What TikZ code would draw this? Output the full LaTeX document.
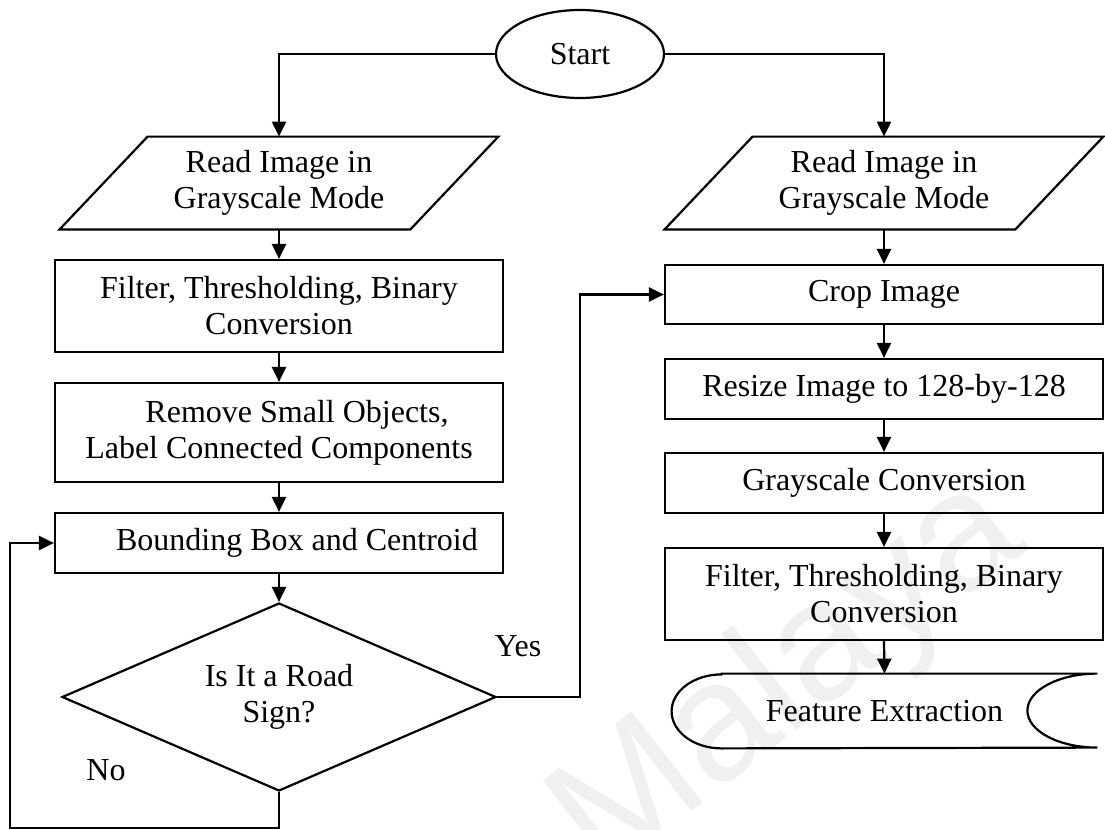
\documentclass[tikz,border=0pt]{standalone}
\usepackage{fontspec}
\setmainfont{Liberation Serif}
\newfontfamily\wmfont{Liberation Sans}
\usetikzlibrary{shapes.geometric,arrows.meta,calc}

\begin{document}
\begin{tikzpicture}[x=0.5pt,y=-0.5pt,
  every node/.style={font=\fontsize{16}{18}\selectfont},
  line/.style={line width=1.1pt},
  arr/.style={line width=1.1pt,-{Triangle[length=7.5pt,width=7pt]}},
  proc/.style={draw,line width=1.1pt,rectangle,align=center,inner sep=0pt},
  io/.style={rectangle,align=center,inner sep=0pt,minimum width=175pt,minimum height=46pt},
  term/.style={draw,line width=1.1pt,ellipse,minimum width=84pt,minimum height=44pt,inner sep=0pt},
  decide/.style={draw,line width=1.1pt,diamond,aspect=2.3,minimum width=217pt,minimum height=94pt,inner sep=0pt,align=center},
  lbl/.style={inner sep=0pt}
]
\useasboundingbox (0,0) rectangle (1105,830);

% faint watermark
\node[rotate=38,text=black!6,font=\wmfont\fontsize{84}{84}\selectfont] (wm) at (790,680) {Malaya};

% terminal
\node[term] (start) at (580,54) {Start};

% input blocks (parallelograms drawn around text nodes)
\node[io] (rd1) at (279,183) {Read Image in\\Grayscale Mode};
\node[io] (rd2) at (884,183) {Read Image in\\Grayscale Mode};
\foreach \n in {rd1,rd2}
  \draw[line] ([xshift=22pt]\n.north west) -- ([xshift=22pt]\n.north east)
    -- ([xshift=-22pt]\n.south east) -- ([xshift=-22pt]\n.south west) -- cycle;

% left column
\node[proc,minimum width=224pt,minimum height=46pt] (fl) at (279,306) {Filter, Thresholding, Binary\\Conversion};
\node[proc,minimum width=224pt,minimum height=49.5pt] (rm) at (279,432.5) {\hspace*{18pt}Remove Small Objects,\\Label Connected Components};
\node[proc,minimum width=224pt,minimum height=30pt] (bb) at (279,543) {\hspace*{18pt}Bounding Box and Centroid};
\node[decide] (dia) at (279,697) {Is It a Road\\Sign?};

% right column
\node[proc,minimum width=219pt,minimum height=29.5pt] (crop) at (884,294.5) {Crop Image};
\node[proc,minimum width=219pt,minimum height=30pt] (rs) at (884,389) {Resize Image to 128-by-128};
\node[proc,minimum width=219pt,minimum height=30pt] (gc) at (884,483) {Grayscale Conversion};
\node[proc,minimum width=219pt,minimum height=46pt] (fl2) at (884,594) {Filter, Thresholding, Binary\\Conversion};

% stored-data block
\node[lbl,minimum width=212.5pt,minimum height=37pt] (fe) at (884.5,711) {Feature Extraction};
\draw[line] ([xshift=25pt]fe.north west) -- (fe.north east)
  arc[start angle=90,end angle=270,x radius=35pt,y radius=18.5pt]
  -- ([xshift=25pt]fe.south west)
  arc[start angle=270,end angle=90,x radius=25pt,y radius=18.5pt] -- cycle;

% connectors
\draw[arr] (start.west) -| (rd1.north);
\draw[arr] (start.east) -| (rd2.north);
\draw[arr] (rd1.south) -- (fl.north);
\draw[arr] (fl.south) -- (rm.north);
\draw[arr] (rm.south) -- (bb.north);
\draw[arr] (bb.south) -- (dia.north);

\coordinate (yesturn) at (580,697);
\draw[arr] (dia.east) -- (yesturn) |- (crop.west);
\coordinate (nocorner) at (10,828);
\draw[arr] (dia.south) |- (nocorner) |- (bb.west);

\draw[arr] (rd2.south) -- (crop.north);
\draw[arr] (crop.south) -- (rs.north);
\draw[arr] (rs.south) -- (gc.north);
\draw[arr] (gc.south) -- (fl2.north);
\draw[arr] (fl2.south) -- (fe.north);

% branch labels
\node[lbl] (yes) at (518,646) {Yes};
\node[lbl] (no) at (106,770) {No};
\end{tikzpicture}
\end{document}
